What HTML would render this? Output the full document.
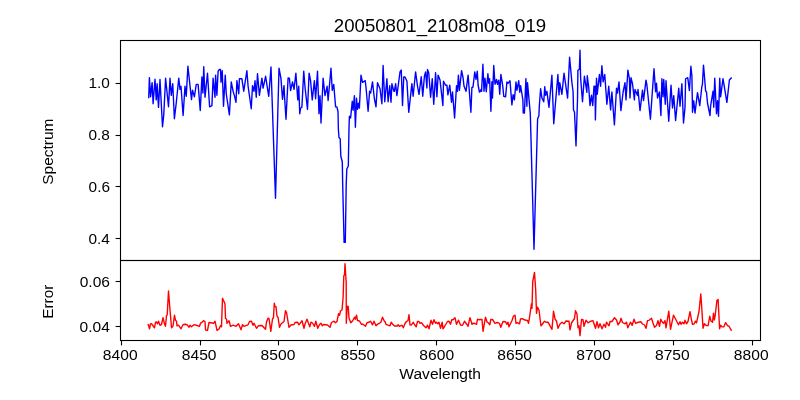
<!DOCTYPE html>
<html><head><meta charset="utf-8"><style>html,body{margin:0;padding:0;background:#fff;overflow:hidden}svg{display:block;will-change:transform}</style></head><body>
<svg width="800" height="400" viewBox="0 0 800 400" font-family='"Liberation Sans", sans-serif'>
<rect x="0" y="0" width="800" height="400" fill="#fff"/>
<polyline fill="none" stroke="#0000ff" stroke-width="1.39" stroke-linejoin="round" stroke-linecap="square" points="148.75,97.50 149.40,77.60 150.60,96.80 152.10,82.60 153.10,103.70 155.00,79.20 156.25,99.90 157.10,83.80 158.50,107.40 160.00,79.45 162.50,126.80 163.75,115.00 165.60,78.20 168.50,106.80 170.00,78.20 171.25,95.30 172.75,83.70 174.40,118.70 176.25,103.00 178.75,78.20 180.00,89.30 181.00,86.30 183.10,115.55 185.00,86.30 186.25,96.20 187.90,66.30 191.50,99.60 192.50,90.10 194.40,96.80 196.25,84.40 198.10,84.40 200.25,110.55 201.90,76.95 202.90,93.05 203.75,66.70 205.00,97.30 207.50,73.20 209.60,106.80 211.90,105.60 213.10,78.20 215.00,97.30 215.60,75.10 216.90,95.30 218.10,71.25 219.40,69.40 220.50,69.40 221.00,82.30 222.25,70.70 223.50,106.20 225.25,75.10 226.25,93.75 229.40,114.90 231.25,81.95 233.10,91.25 234.40,95.60 236.00,102.30 236.90,80.70 238.75,93.70 239.40,78.75 241.90,78.80 243.75,91.20 246.90,70.70 248.10,86.25 251.25,108.70 252.50,85.70 254.00,91.30 255.00,80.70 256.25,97.30 257.50,73.70 259.40,95.30 261.90,78.20 263.10,88.05 265.60,76.30 268.75,96.30 271.00,66.95 275.50,198.30 279.00,68.20 281.00,78.75 282.50,99.30 284.00,85.70 284.60,97.50 286.00,119.30 288.10,78.00 289.40,78.20 290.60,90.55 292.50,81.95 294.00,89.30 295.90,73.20 297.75,99.90 298.75,86.30 299.75,113.70 300.60,108.20 301.90,107.30 303.75,71.30 305.00,87.00 307.50,109.30 309.10,73.20 310.60,81.00 312.25,99.90 314.40,80.70 315.60,98.70 317.50,71.30 319.00,113.70 320.00,95.70 321.00,123.05 323.10,78.20 325.00,95.55 327.10,86.30 328.10,100.55 331.00,68.20 332.25,90.30 333.75,84.45 335.60,106.90 336.90,106.90 338.00,111.50 338.40,130.00 339.00,137.50 340.20,138.70 340.80,156.00 342.30,162.00 342.70,185.00 344.10,242.40 345.30,242.40 346.20,185.00 346.80,169.00 348.30,166.00 349.00,128.00 349.40,116.30 350.60,118.05 352.25,101.30 353.10,110.30 354.40,95.70 355.40,127.30 356.50,98.20 357.50,109.30 358.50,103.20 359.40,108.05 361.00,75.10 362.50,82.30 365.25,80.70 366.25,90.00 368.10,111.30 369.60,91.30 370.60,93.05 372.50,81.95 374.40,98.75 376.00,106.80 377.50,82.70 380.00,88.75 381.90,103.70 383.10,65.45 384.75,101.80 386.90,78.70 388.10,101.80 389.75,85.70 391.00,102.30 391.90,83.70 393.75,91.00 394.40,91.30 395.60,83.70 396.90,95.55 400.00,72.00 401.25,70.10 402.50,105.55 403.75,76.95 405.00,77.00 406.90,81.00 408.75,112.30 411.90,83.70 413.10,96.30 415.60,71.95 417.50,86.00 419.00,94.30 421.25,76.70 422.75,96.30 424.40,76.25 425.60,71.95 426.90,88.05 427.50,69.45 428.75,73.00 430.60,97.30 432.25,78.70 433.75,104.30 435.60,72.70 436.90,96.80 438.10,75.10 440.00,80.00 442.90,105.55 443.50,81.30 445.60,85.30 446.90,85.10 447.90,94.90 449.75,85.10 451.50,102.30 452.50,91.95 454.60,118.05 456.50,85.70 457.50,91.30 458.40,75.10 459.40,90.30 461.60,70.70 463.10,78.00 464.00,86.00 466.00,91.30 468.10,75.10 470.90,112.30 471.90,87.50 473.00,87.00 474.75,71.95 476.00,79.30 477.25,71.30 478.10,85.00 479.40,92.00 480.00,91.80 481.00,89.45 481.60,91.30 482.90,64.20 484.00,91.30 485.00,78.20 486.25,91.80 487.90,73.70 488.75,83.30 489.60,78.70 490.90,111.30 491.90,81.70 492.50,98.05 493.75,65.45 495.00,84.30 496.50,79.45 497.50,84.30 498.75,80.10 499.75,94.30 500.90,74.45 502.75,86.00 503.75,96.25 505.60,96.80 506.90,81.95 508.10,83.30 510.00,80.70 511.90,104.90 513.10,94.70 514.40,99.90 516.00,81.95 516.90,90.30 518.75,80.70 519.75,92.30 520.60,85.70 522.90,100.00 523.20,112.90 524.40,113.20 525.90,78.70 526.90,106.30 527.50,82.70 530.30,113.60 534.00,249.30 537.60,119.00 538.90,115.80 539.30,106.50 540.60,88.70 541.90,98.00 543.75,101.80 544.75,86.70 545.60,95.30 546.90,91.30 549.00,107.30 551.90,75.10 553.75,123.70 556.25,93.75 557.90,74.45 559.00,94.90 559.75,82.70 561.90,94.30 564.00,73.20 567.60,98.05 569.60,57.20 571.90,82.50 573.10,92.00 573.50,110.00 574.50,112.00 576.00,145.90 577.50,100.00 577.90,70.50 579.40,69.00 580.00,50.30 580.60,77.50 582.50,101.80 584.40,76.30 586.90,92.30 587.25,75.70 588.75,87.50 590.00,105.55 591.50,95.10 592.75,105.55 594.00,86.25 595.00,86.30 595.40,119.90 596.50,78.20 597.25,94.30 599.40,74.45 600.60,86.30 601.90,65.70 603.10,81.80 604.75,74.45 606.90,104.30 608.75,86.30 610.60,109.90 611.90,91.95 614.40,124.90 616.50,88.20 617.50,93.05 619.00,81.95 620.90,110.55 623.10,92.00 625.00,82.60 626.00,99.90 627.90,70.10 629.40,78.75 630.00,98.05 631.00,77.70 632.50,83.75 634.40,99.90 635.00,89.45 637.50,95.55 638.00,89.45 640.00,110.55 642.50,90.10 643.50,100.55 646.00,80.10 646.90,85.00 650.40,119.30 654.00,68.70 655.60,91.80 656.50,83.20 657.50,98.05 659.40,91.95 660.90,115.55 661.90,78.70 663.10,96.80 663.75,79.45 665.25,104.30 666.00,80.70 668.75,121.30 671.00,85.10 672.50,108.05 673.75,95.70 675.60,120.55 678.75,88.20 680.00,106.30 681.90,83.70 683.50,123.05 685.00,107.50 685.60,78.75 687.75,77.70 689.40,90.55 690.90,66.30 691.90,76.00 692.50,112.30 693.75,100.70 695.00,113.05 697.50,92.70 699.75,105.55 701.90,86.00 702.40,85.00 703.50,65.10 704.60,78.00 705.60,91.00 706.50,92.00 707.50,103.00 710.00,115.55 710.60,106.00 713.00,91.30 713.75,107.30 714.75,78.20 716.50,113.70 717.50,100.70 718.50,116.30 719.75,78.20 720.60,96.80 723.00,78.70 726.90,102.30 729.40,80.00 731.25,78.00"/>
<polyline fill="none" stroke="#ff0000" stroke-width="1.39" stroke-linejoin="round" stroke-linecap="square" points="148.20,324.50 149.50,328.80 150.50,324.00 151.50,323.70 152.50,325.00 154.50,327.80 155.50,322.20 156.50,322.00 157.50,323.80 158.50,321.20 160.00,325.30 161.50,324.50 163.00,317.70 164.50,324.00 165.50,326.30 166.50,315.50 167.20,315.00 168.50,291.00 170.00,310.00 171.50,327.80 173.00,326.00 174.50,315.20 175.50,320.30 176.50,321.20 177.00,325.80 178.50,325.20 181.00,328.80 183.00,324.70 185.00,324.30 187.00,324.70 189.00,327.30 190.00,325.20 191.50,326.80 194.00,324.70 197.00,325.50 199.50,326.30 200.50,323.20 202.00,322.30 203.50,320.70 205.00,321.50 205.50,330.00 207.50,330.30 209.00,322.50 211.00,322.70 213.50,323.30 215.00,321.20 217.00,330.30 219.00,329.00 220.50,325.70 221.50,326.80 222.50,298.20 224.00,301.50 225.00,304.00 225.50,318.50 226.50,319.00 227.00,323.30 229.00,320.70 230.50,326.30 233.00,325.20 236.00,326.30 238.50,323.70 241.00,329.80 242.50,324.70 244.00,326.30 246.00,325.70 248.00,324.80 249.50,321.50 251.50,321.20 253.00,325.30 254.00,323.20 256.50,328.30 258.50,325.70 262.00,325.50 265.50,329.30 266.50,322.00 268.00,318.20 269.00,318.50 270.80,331.30 272.50,319.00 273.50,317.50 274.30,303.20 275.00,306.30 276.00,306.70 277.00,316.30 278.00,317.20 279.50,327.30 281.00,324.00 284.00,321.50 285.50,310.70 286.50,312.50 289.00,327.30 291.00,325.00 294.00,324.50 295.00,322.50 297.50,322.20 299.00,324.80 302.00,320.70 304.00,328.30 305.00,324.00 307.00,319.20 309.80,326.80 311.00,322.20 312.50,323.00 314.50,326.30 315.80,321.20 317.80,328.30 319.50,324.50 321.00,323.20 322.20,325.80 323.50,324.50 325.50,324.70 327.50,325.00 330.00,327.30 331.50,322.50 334.00,321.20 335.50,322.80 337.00,321.50 338.50,313.70 339.50,315.30 340.50,311.00 342.00,310.00 343.10,297.50 343.80,275.70 344.50,275.05 345.00,263.70 346.20,282.50 346.30,323.30 347.20,306.20 348.20,306.50 349.00,318.00 350.80,322.80 352.50,321.00 354.50,317.20 355.30,319.30 356.50,315.20 357.50,320.50 359.50,321.00 361.50,324.30 363.00,324.20 365.50,326.30 367.00,322.70 369.00,322.30 370.50,321.20 372.50,324.80 374.00,321.20 376.00,325.80 377.50,324.20 379.50,323.30 381.00,322.00 382.50,317.20 384.50,321.50 385.00,321.50 386.00,324.30 388.00,325.20 390.00,325.80 391.20,322.20 392.50,324.00 394.50,326.00 397.50,326.00 398.00,324.70 399.50,326.30 402.00,325.20 403.30,327.80 405.00,323.50 406.50,321.50 408.00,320.50 409.00,314.70 410.00,325.00 411.50,324.80 413.30,322.20 414.50,324.50 416.20,326.80 417.50,321.50 419.00,321.50 420.00,323.30 421.50,322.70 423.50,325.50 426.00,327.80 427.50,325.20 429.00,328.80 431.00,320.20 432.50,324.30 434.00,319.70 435.50,323.30 436.50,322.20 437.80,323.80 439.00,322.20 440.50,328.30 442.20,322.20 443.00,328.80 444.50,326.50 447.50,321.50 449.00,321.20 450.50,324.30 451.80,319.70 453.00,319.80 455.00,317.70 456.50,324.30 458.50,320.20 460.50,325.00 462.50,325.30 464.50,321.20 465.00,322.00 467.00,324.50 468.00,326.30 470.00,317.70 472.00,324.30 473.00,323.20 475.00,323.50 476.50,324.30 477.50,319.20 479.00,319.80 480.50,319.50 482.00,319.50 483.00,331.30 485.50,317.20 487.00,322.00 488.50,323.00 489.80,324.80 490.80,319.50 492.50,319.50 495.00,323.30 496.50,322.70 498.00,322.50 499.50,323.50 500.80,327.30 503.00,321.50 505.50,321.70 506.80,324.30 508.00,322.20 509.00,326.80 512.00,320.50 513.50,316.00 515.00,315.20 516.00,323.30 517.50,322.70 519.50,323.80 520.50,319.00 522.00,318.70 525.00,320.00 527.50,320.50 528.50,323.30 529.50,317.50 531.50,303.70 532.00,308.30 532.70,281.75 534.50,272.40 535.70,290.00 536.50,313.30 537.50,307.20 539.00,310.00 540.00,318.50 541.00,325.80 542.50,324.00 544.50,321.20 546.00,322.30 548.00,322.20 552.00,329.30 553.50,311.20 555.00,319.00 556.50,321.00 558.00,328.30 560.00,324.00 562.00,322.20 564.00,323.80 566.00,321.00 569.00,321.20 570.00,329.80 571.50,323.00 574.50,318.50 575.50,310.70 577.00,314.00 578.00,327.80 579.00,325.70 580.00,335.60 581.50,319.50 583.00,319.70 584.00,326.30 586.00,320.20 588.00,322.80 590.00,321.50 593.00,320.70 595.50,328.30 597.00,321.70 598.50,327.80 600.00,323.70 602.00,328.80 604.00,324.20 605.50,327.30 606.50,322.20 609.00,325.80 610.00,321.50 612.00,321.50 614.50,317.70 616.50,320.00 618.00,324.80 620.00,322.00 621.00,318.20 622.50,322.50 625.00,323.80 626.50,322.20 627.80,327.80 630.50,322.20 632.20,325.30 634.00,319.20 635.50,323.30 637.50,322.50 640.80,321.70 642.50,324.00 644.50,325.00 646.00,328.30 647.50,320.70 649.00,320.30 651.50,318.20 653.00,323.00 654.50,327.30 656.50,325.50 658.00,320.70 659.50,326.30 660.80,319.20 662.20,322.00 663.50,323.30 665.00,320.70 666.00,327.80 668.80,311.20 670.50,329.30 673.50,315.20 675.00,318.00 678.50,324.80 680.00,321.70 681.00,324.30 682.50,322.20 684.00,323.80 685.00,320.20 686.50,323.80 688.00,321.50 690.00,311.70 691.50,320.00 692.50,324.30 694.00,324.00 695.50,321.20 696.50,322.80 699.00,311.50 700.80,294.00 702.00,311.50 703.00,328.30 704.40,323.70 706.25,325.60 708.10,325.55 709.75,316.30 711.00,321.00 712.50,322.30 713.50,313.20 714.40,319.90 715.25,315.00 716.90,300.60 718.10,299.45 719.60,328.70 720.60,325.10 721.90,326.80 723.75,326.90 725.60,322.60 727.50,325.60 729.00,326.25 731.25,330.25"/>
<g fill="none" stroke="#000" stroke-width="1.1">
<rect x="120.5" y="40.5" width="640" height="220"/>
<rect x="120.5" y="260.5" width="640" height="80"/>
<line x1="121.5" y1="340.5" x2="121.5" y2="345.4"/>
<line x1="200.5" y1="340.5" x2="200.5" y2="345.4"/>
<line x1="278.5" y1="340.5" x2="278.5" y2="345.4"/>
<line x1="357.5" y1="340.5" x2="357.5" y2="345.4"/>
<line x1="436.5" y1="340.5" x2="436.5" y2="345.4"/>
<line x1="515.5" y1="340.5" x2="515.5" y2="345.4"/>
<line x1="594.5" y1="340.5" x2="594.5" y2="345.4"/>
<line x1="673.5" y1="340.5" x2="673.5" y2="345.4"/>
<line x1="752.5" y1="340.5" x2="752.5" y2="345.4"/>
<line x1="115.6" y1="83.50" x2="120.5" y2="83.50"/>
<line x1="115.6" y1="135.50" x2="120.5" y2="135.50"/>
<line x1="115.6" y1="186.50" x2="120.5" y2="186.50"/>
<line x1="115.6" y1="238.50" x2="120.5" y2="238.50"/>
<line x1="115.6" y1="281.50" x2="120.5" y2="281.50"/>
<line x1="115.6" y1="326.50" x2="120.5" y2="326.50"/>
</g>
<g fill="#000">
<text x="120.25" y="360.39" font-size="14.93" text-anchor="middle" textLength="34.72" lengthAdjust="spacingAndGlyphs">8400</text>
<text x="199.17" y="360.39" font-size="14.93" text-anchor="middle" textLength="34.72" lengthAdjust="spacingAndGlyphs">8450</text>
<text x="278.00" y="360.39" font-size="14.93" text-anchor="middle" textLength="34.72" lengthAdjust="spacingAndGlyphs">8500</text>
<text x="357.88" y="360.39" font-size="14.93" text-anchor="middle" textLength="34.72" lengthAdjust="spacingAndGlyphs">8550</text>
<text x="436.75" y="360.39" font-size="14.93" text-anchor="middle" textLength="34.72" lengthAdjust="spacingAndGlyphs">8600</text>
<text x="514.68" y="360.39" font-size="14.93" text-anchor="middle" textLength="34.72" lengthAdjust="spacingAndGlyphs">8650</text>
<text x="593.60" y="360.39" font-size="14.93" text-anchor="middle" textLength="34.72" lengthAdjust="spacingAndGlyphs">8700</text>
<text x="672.38" y="360.39" font-size="14.93" text-anchor="middle" textLength="34.72" lengthAdjust="spacingAndGlyphs">8750</text>
<text x="751.25" y="360.39" font-size="14.93" text-anchor="middle" textLength="34.72" lengthAdjust="spacingAndGlyphs">8800</text>
<text x="109.90" y="88.15" font-size="14.95" text-anchor="end" textLength="21.42" lengthAdjust="spacingAndGlyphs">1.0</text>
<text x="109.90" y="139.65" font-size="14.95" text-anchor="end" textLength="21.42" lengthAdjust="spacingAndGlyphs">0.8</text>
<text x="110.00" y="192.15" font-size="14.95" text-anchor="end" textLength="21.42" lengthAdjust="spacingAndGlyphs">0.6</text>
<text x="109.90" y="243.65" font-size="14.95" text-anchor="end" textLength="21.42" lengthAdjust="spacingAndGlyphs">0.4</text>
<text x="110.00" y="286.55" font-size="14.95" text-anchor="end" textLength="30.30" lengthAdjust="spacingAndGlyphs">0.06</text>
<text x="109.90" y="331.95" font-size="14.95" text-anchor="end" textLength="30.30" lengthAdjust="spacingAndGlyphs">0.04</text>
<text x="440.15" y="379.30" font-size="14.47" text-anchor="middle" textLength="81.70" lengthAdjust="spacingAndGlyphs">Wavelength</text>
<g transform="translate(52.75,151.60) rotate(-90)"><text x="0.00" y="0.00" font-size="14.35" text-anchor="middle" textLength="66.20" lengthAdjust="spacingAndGlyphs">Spectrum</text></g>
<g transform="translate(53.40,301.75) rotate(-90)"><text x="0.00" y="0.00" font-size="15.47" text-anchor="middle" textLength="34.00" lengthAdjust="spacingAndGlyphs">Error</text></g>
<text x="440.00" y="31.70" font-size="17.90" text-anchor="middle" textLength="212.40" lengthAdjust="spacingAndGlyphs">20050801_2108m08_019</text>
</g>
</svg>
</body></html>
